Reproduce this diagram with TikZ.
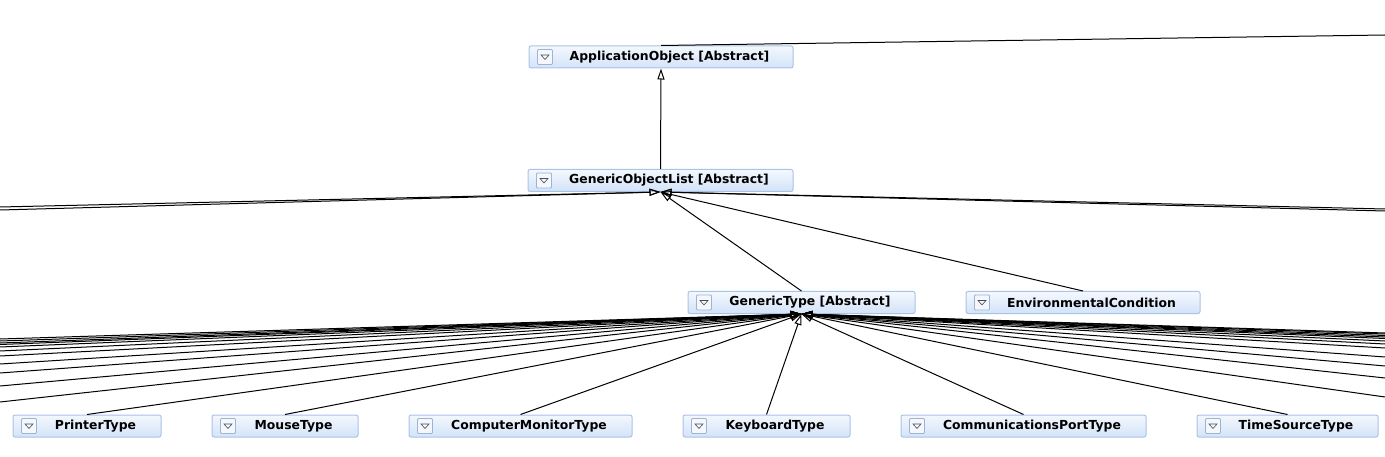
\documentclass[tikz,border=0pt]{standalone}
\usepackage{fontspec}
\setmainfont{DejaVu Sans}
\usetikzlibrary{arrows.meta,calc}
\definecolor{boxborder}{HTML}{A9C3E6}
\definecolor{boxtop}{HTML}{F4F8FE}
\definecolor{boxbot}{HTML}{D3E3F8}
\definecolor{iconborder}{HTML}{9DB4D4}
\tikzset{
  cls/.style={draw=boxborder, line width=1pt, rounded corners=2pt, top color=boxtop, bottom color=boxbot,
    minimum height=22pt, inner sep=0pt, font=\bfseries\fontsize{12.4}{14}\selectfont, text=black},
  inh/.style={line width=1pt, -{Triangle[open, length=11pt, width=7pt, line width=1pt]}},
  plain/.style={line width=1pt},
}
\newcommand{\clsicon}[1]{%
  \draw[iconborder, line width=0.8pt, fill=boxtop, rounded corners=1pt]
    ($(#1.west)+(9,-7.5)$) rectangle ($(#1.west)+(24,7.5)$);
  \draw[black!70, line width=0.6pt]
    ($(#1.west)+(12.5,-2)$) -- ($(#1.west)+(20.5,-2)$) -- ($(#1.west)+(16.5,2.5)$) -- cycle;
}
\begin{document}
\begin{tikzpicture}[x=1pt,y=-1pt]
\useasboundingbox (0,0) rectangle (1385,457);
% nodes
\node[cls, minimum width=264pt] (AO) at (661,57) {\hspace*{17pt}ApplicationObject [Abstract]};
\node[cls, minimum width=265pt] (GOL) at (660.5,180.5) {\hspace*{17pt}GenericObjectList [Abstract]};
\node[cls, minimum width=227pt] (GT) at (801.5,302.5) {\hspace*{17pt}GenericType [Abstract]};
\node[cls, minimum width=234pt] (EC) at (1083,302.5) {\hspace*{17pt}EnvironmentalCondition};
\node[cls, minimum width=148pt] (PT) at (87,426) {\hspace*{17pt}PrinterType};
\node[cls, minimum width=146pt] (MT) at (285,426) {\hspace*{17pt}MouseType};
\node[cls, minimum width=223pt] (CMT) at (520.5,426) {\hspace*{17pt}ComputerMonitorType};
\node[cls, minimum width=167pt] (KT) at (766.5,426) {\hspace*{17pt}KeyboardType};
\node[cls, minimum width=245pt] (CPT) at (1023.5,426) {\hspace*{17pt}CommunicationsPortType};
\node[cls, minimum width=181pt] (TST) at (1287.5,426) {\hspace*{17pt}TimeSourceType};
\foreach \n in {AO,GOL,GT,EC,PT,MT,CMT,KT,CPT,TST}{\clsicon{\n}}
% connectors
\coordinate (aoP) at (1385,35);
\draw[plain] (AO.north) -- (aoP);
\draw[inh] (GOL.north) -- (AO.south);
\foreach \y [count=\i] in {207,210}{
  \coordinate (gl\i) at (0,\y);
  \draw[inh] (gl\i) -- (GOL.south);
}
\foreach \y [count=\i] in {209,211}{
  \coordinate (gr\i) at (1385,\y);
  \draw[inh] (gr\i) -- (GOL.south);
}
\draw[inh] (GT.north) -- (GOL.south);
\draw[inh] (EC.north) -- (GOL.south);
\foreach \y [count=\i] in {339,341,343,344.5,347,351,356,364,373,386,402}{
  \coordinate (tl\i) at (0,\y);
  \draw[inh] (tl\i) -- (GT.south);
}
\foreach \y [count=\i] in {333,334,335.5,337,338.5,341,344,348,357,366,378,397}{
  \coordinate (tr\i) at (1385,\y);
  \draw[inh] (tr\i) -- (GT.south);
}
\foreach \n in {PT,MT,CMT,KT,CPT,TST}{
  \draw[inh] (\n.north) -- (GT.south);
}
\end{tikzpicture}
\end{document}
